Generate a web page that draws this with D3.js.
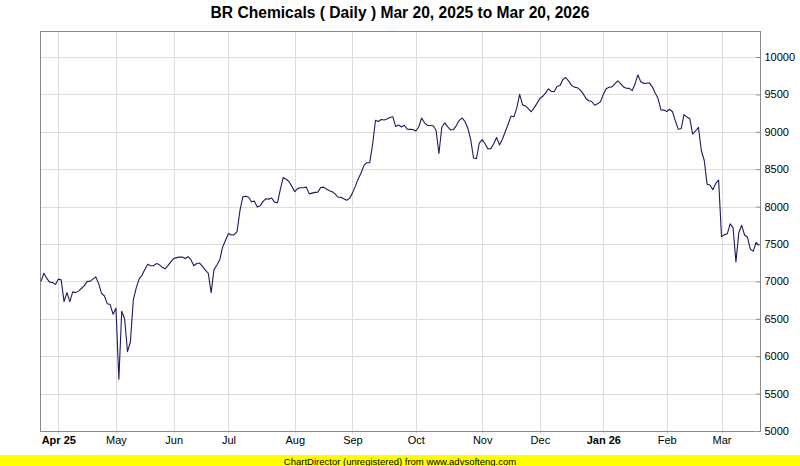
<!DOCTYPE html>
<html>
<head>
<meta charset="utf-8">
<script src="https://cdn.jsdelivr.net/npm/d3@7"></script>
<style>
  html, body { margin: 0; padding: 0; background: #fff; }
  svg { display: block; font-family: "Liberation Sans", Arial, sans-serif; }
</style>
</head>
<body>
<script>
// ---- data ----
const title = "BR Chemicals ( Daily ) Mar 20, 2025 to Mar 20, 2026";
const footer = "ChartDirector (unregistered) from www.advsofteng.com";

// daily closes, one per trading day (index 0 = Mar 20, 2025)
const closes = [
  7000, 7110, 7040, 6990, 6985, 6960, 7030, 7020, 6730, 6850,
  6730, 6860, 6850, 6870, 6905, 6940, 7000, 7000, 7030, 7060,
  6970, 6840, 6805, 6700, 6690, 6560, 6640, 5693, 6600, 6500,
  6060, 6190, 6750, 6910, 7030, 7080, 7160, 7230, 7210, 7210,
  7238, 7225, 7190, 7168, 7210, 7260, 7305, 7318, 7325, 7327,
  7305, 7330, 7290, 7210, 7240, 7245, 7200, 7150, 7110, 6850,
  7157, 7220, 7290, 7460, 7550, 7640, 7620, 7625, 7665, 7950,
  8130, 8138, 8125, 8065, 8073, 7995, 8010, 8070, 8105, 8100,
  8115, 8060, 8051, 8230, 8390, 8365, 8335, 8270, 8200, 8240,
  8252, 8252, 8260, 8170, 8180, 8190, 8193, 8255, 8260, 8235,
  8212, 8198, 8170, 8125, 8126, 8105, 8085, 8110, 8180, 8270,
  8370, 8450, 8551, 8587, 8587, 8830, 9154, 9137, 9165, 9158,
  9170, 9190, 9202, 9070, 9090, 9064, 9087, 9035, 9033, 9030,
  9011, 9064, 9185, 9120, 9085, 9085, 9080, 9020, 8710, 9060,
  9120, 9070, 9025, 9030, 9080, 9150, 9185, 9140, 9050, 8900,
  8650, 8640, 8850, 8895, 8840, 8770, 8775, 8840, 8925, 8825,
  8900, 9000, 9100, 9210, 9200, 9320, 9500, 9360, 9346, 9310,
  9268, 9320, 9380, 9445, 9475, 9520, 9575, 9538, 9538, 9610,
  9620, 9700, 9726, 9678, 9620, 9597, 9590, 9560, 9510, 9445,
  9415, 9405, 9355, 9375, 9400, 9500, 9575, 9595, 9601, 9640,
  9680, 9645, 9600, 9583, 9580, 9550, 9640, 9761, 9670, 9648,
  9650, 9655, 9601, 9520, 9445, 9292, 9290, 9272, 9301, 9268,
  9145, 9035, 9040, 9230, 9197, 9175, 8970, 9011, 9060, 8750,
  8620, 8300, 8290, 8225, 8310, 8354, 7596, 7625, 7636, 7770,
  7720, 7261, 7650, 7750, 7620, 7590, 7430, 7405, 7520, 7483
];

// month ticks: trading-day index of first session of each month
const monthTickIndex = [6, 26, 46, 65, 88, 108, 130, 153, 173, 195, 217, 236];
const monthTickLabel = ["Apr 25", "May", "Jun", "Jul", "Aug", "Sep", "Oct", "Nov", "Dec", "Jan 26", "Feb", "Mar"];
const monthTickBold  = [true, false, false, false, false, false, false, false, false, true, false, false];

const yTicks = [5000, 5500, 6000, 6500, 7000, 7500, 8000, 8500, 9000, 9500, 10000];

// ---- layout ----
const W = 800, H = 466;
const plot = { left: 40, right: 760, top: 31, bottom: 431 };
const gridRight = 755;

const svg = d3.select("body").append("svg").attr("width", W).attr("height", H);

const x = d3.scaleLinear().domain([0, closes.length - 1]).range([plot.left + 1, plot.right - 1]);
const y = d3.scaleLinear().domain([5000, 10000]).range([plot.bottom, 57]);

// title
svg.append("text")
  .attr("x", W / 2).attr("y", 18)
  .attr("text-anchor", "middle")
  .attr("font-size", 15.6).attr("font-weight", "bold")
  .attr("fill", "#000")
  .text(title);

// horizontal grid
svg.append("g").selectAll("line").data(yTicks).join("line")
  .attr("x1", plot.left).attr("x2", gridRight)
  .attr("y1", d => Math.round(y(d)) + 0.5).attr("y2", d => Math.round(y(d)) + 0.5)
  .attr("stroke", "#dddddd").attr("stroke-width", 1);

// vertical grid (extends slightly below axis as tick)
svg.append("g").selectAll("line").data(monthTickIndex).join("line")
  .attr("x1", d => Math.round(x(d)) + 0.5).attr("x2", d => Math.round(x(d)) + 0.5)
  .attr("y1", plot.top).attr("y2", plot.bottom + 3)
  .attr("stroke", "#dddddd").attr("stroke-width", 1);

// plot borders
svg.append("line").attr("x1", plot.left + 0.5).attr("x2", plot.left + 0.5)
  .attr("y1", plot.top).attr("y2", plot.bottom).attr("stroke", "#888").attr("stroke-width", 1);
svg.append("line").attr("x1", plot.left).attr("x2", plot.right)
  .attr("y1", plot.top + 0.5).attr("y2", plot.top + 0.5).attr("stroke", "#888").attr("stroke-width", 1);
svg.append("line").attr("x1", plot.left).attr("x2", gridRight)
  .attr("y1", plot.bottom + 0.5).attr("y2", plot.bottom + 0.5).attr("stroke", "#888").attr("stroke-width", 1);

// right axis
const yAxis = d3.axisRight(y).tickValues(yTicks).tickSize(0).tickPadding(4).tickFormat(d3.format("d"));
const yg = svg.append("g").attr("transform", `translate(${plot.right + 0.5},0)`).call(yAxis);
yg.select(".domain").attr("stroke", "#888").attr("d", `M0,${plot.top}V${plot.bottom + 1}`);
yg.selectAll("text").attr("font-size", 11).attr("fill", "#000")
  .attr("font-family", "'Liberation Sans', Arial, sans-serif");
yg.selectAll(".tick").append("line").attr("x1", -5).attr("x2", 0).attr("stroke", "#888");

// bottom axis labels
const xAxis = d3.axisBottom(x).tickValues(monthTickIndex).tickSize(0).tickPadding(5)
  .tickFormat((d, i) => monthTickLabel[i]);
const xg = svg.append("g").attr("transform", `translate(0,${plot.bottom})`).call(xAxis);
xg.select(".domain").remove();
xg.selectAll("text").attr("font-size", 11).attr("fill", "#000")
  .attr("font-family", "'Liberation Sans', Arial, sans-serif")
  .attr("font-weight", (d, i) => monthTickBold[i] ? "bold" : "normal");

// price line
const line = d3.line().x((d, i) => x(i)).y(d => y(d));
svg.append("path").datum(closes)
  .attr("d", line)
  .attr("fill", "none").attr("stroke", "#1b1b5e").attr("stroke-width", 1.1)
  .attr("stroke-linejoin", "round");

// footer
svg.append("rect").attr("x", 0).attr("y", 455).attr("width", W).attr("height", 11).attr("fill", "#ffff00");
svg.append("text").attr("x", W / 2).attr("y", 464.5).attr("text-anchor", "middle")
  .attr("font-size", 9.5).attr("fill", "#000").text(footer);
</script>
</body>
</html>
